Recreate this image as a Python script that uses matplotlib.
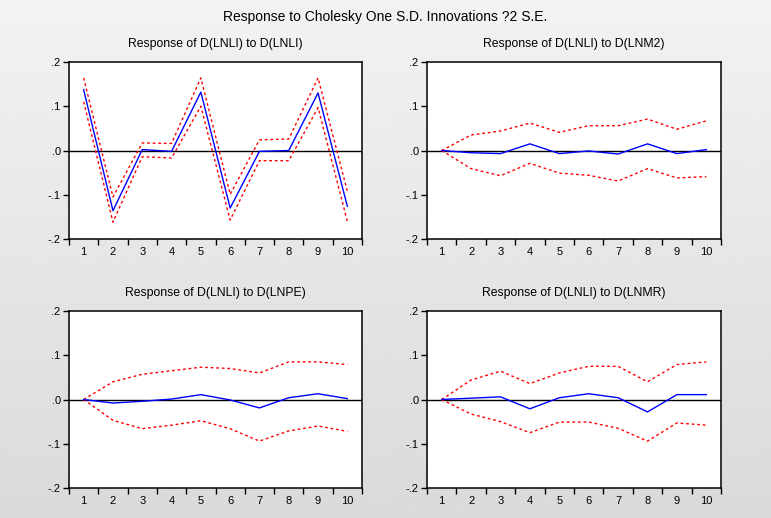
"""Impulse responses of D(LNLI) with +/- 2 S.E. bands, EViews-style 2x2 grid."""

import matplotlib

matplotlib.use("Agg")
import matplotlib.pyplot as plt
import numpy as np

plt.rcParams["font.family"] = ["Liberation Sans", "DejaVu Sans"]

periods = list(range(1, 11))
titles = [
    "Response of D(LNLI) to D(LNLI)",
    "Response of D(LNLI) to D(LNM2)",
    "Response of D(LNLI) to D(LNPE)",
    "Response of D(LNLI) to D(LNMR)",
]

resp_lnli = [0.137, -0.136, 0.002, -0.002, 0.132, -0.130, -0.002, 0.000, 0.130, -0.126]
upper_lnli = [0.164, -0.105, 0.017, 0.016, 0.164, -0.099, 0.024, 0.026, 0.164, -0.092]
lower_lnli = [0.110, -0.162, -0.014, -0.017, 0.100, -0.157, -0.023, -0.023, 0.097, -0.160]

resp_lnm2 = [0.0, -0.005, -0.007, 0.015, -0.007, -0.001, -0.008, 0.015, -0.007, 0.002]
upper_lnm2 = [0.0, 0.035, 0.044, 0.062, 0.041, 0.056, 0.056, 0.071, 0.048, 0.067]
lower_lnm2 = [0.0, -0.041, -0.057, -0.029, -0.051, -0.056, -0.069, -0.041, -0.062, -0.059]

resp_lnpe = [0.0, -0.008, -0.004, 0.001, 0.011, -0.001, -0.019, 0.004, 0.013, 0.002]
upper_lnpe = [0.0, 0.040, 0.057, 0.065, 0.073, 0.070, 0.060, 0.085, 0.085, 0.079]
lower_lnpe = [0.0, -0.047, -0.066, -0.058, -0.048, -0.066, -0.094, -0.071, -0.060, -0.072]

resp_lnmr = [0.0, 0.003, 0.006, -0.021, 0.004, 0.013, 0.004, -0.028, 0.011, 0.011]
upper_lnmr = [0.0, 0.044, 0.064, 0.036, 0.060, 0.075, 0.075, 0.040, 0.079, 0.085]
lower_lnmr = [0.0, -0.033, -0.050, -0.075, -0.051, -0.051, -0.065, -0.094, -0.053, -0.058]

panels = [
    (resp_lnli, upper_lnli, lower_lnli),
    (resp_lnm2, upper_lnm2, lower_lnm2),
    (resp_lnpe, upper_lnpe, lower_lnpe),
    (resp_lnmr, upper_lnmr, lower_lnmr),
]

W, H = 771, 518
fig = plt.figure(figsize=(W / 100, H / 100), dpi=100)

# grey vertical gradient behind everything
bg = fig.add_axes([0, 0, 1, 1], zorder=-10)
grad = np.linspace(0.95, 0.855, 256).reshape(-1, 1)
bg.imshow(grad, aspect="auto", cmap="gray", vmin=0, vmax=1, extent=(0, 1, 0, 1))
bg.set_axis_off()

# axes boxes in pixels: (left, top, right, bottom)
boxes = [(69, 62, 362, 239), (427, 62, 721, 239),
         (69, 311, 362, 488), (427, 311, 721, 488)]

for (left, top, right, bottom), title, (resp, upper, lower) in zip(boxes, titles, panels):
    ax = fig.add_axes([left / W, 1 - bottom / H, (right - left) / W, (bottom - top) / H])
    ax.set_facecolor("white")
    ax.axhline(0, color="black", linewidth=1.0, zorder=1)
    ax.plot(periods, upper, color="red", linewidth=1.0, linestyle=(0, (2, 2)), zorder=2)
    ax.plot(periods, lower, color="red", linewidth=1.0, linestyle=(0, (2, 2)), zorder=2)
    ax.plot(periods, resp, color="blue", linewidth=1.0, zorder=3)
    ax.set_xlim(0.5, 10.5)
    ax.set_ylim(-0.2, 0.2)
    ax.set_xticks(np.arange(0.5, 11, 1.0))
    ax.set_xticklabels([])
    ax.set_xticks(periods, minor=True)
    ax.set_xticklabels([str(p) for p in periods], minor=True, fontsize=8)
    ax.tick_params(axis="x", which="minor", length=0, pad=6)
    ax.tick_params(axis="x", which="major", length=4, width=1, direction="out")
    ax.set_yticks([-0.2, -0.1, 0.0, 0.1, 0.2])
    ax.set_yticklabels(["-.2", "-.1", ".0", ".1", ".2"], fontsize=8)
    ax.tick_params(axis="y", length=4, width=1, direction="out", pad=2)
    for spine in ax.spines.values():
        spine.set_linewidth(1.1)
    ax.set_title(title, fontsize=8.8, pad=11)

fig.text(0.5, 1 - 17 / H, "Response to Cholesky One S.D. Innovations ?2 S.E.",
         ha="center", va="center", fontsize=10)

fig.savefig("out.png", dpi=100)
